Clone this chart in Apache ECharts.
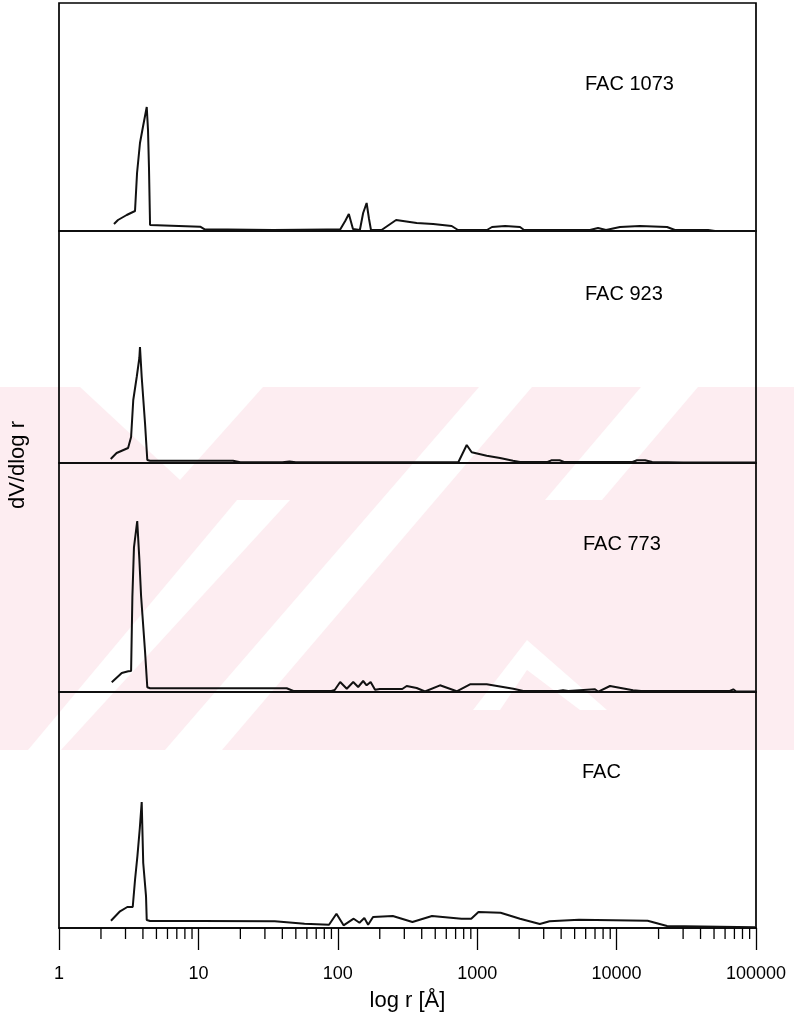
<!DOCTYPE html>
<html>
<head>
<meta charset="utf-8">
<script src="https://cdn.jsdelivr.net/npm/echarts@6/dist/echarts.min.js"></script>
<style>
html,body{margin:0;padding:0;background:#fff;}
#c{width:794px;height:1018px;}
</style>
</head>
<body>
<div id="c"></div>
<script>
// ---- data (r in Å, dV/dlog r in arbitrary units) ----
const panelNames = ['FAC 1073', 'FAC 923', 'FAC 773', 'FAC'];

const r1073 = [2.48,2.65,3.06,3.51,3.63,3.81,4.00,4.26,4.35,4.42,4.50,4.65,10.3,11.1,34.3,83.7,104,113,120,128.5,144,152,161,167.5,173,206,262,368,483,656,728,1175,1277,1585,2028,2167,6440,7360,8400,10580,14700,23000,26200,45300,50800,100000];
const v1073 = [7,11,16,20,58,88,104,124,101,64,6,4.3,4.3,1.7,1,1.5,1.5,10,17,2,1,18,28,12,1,1,11,8,7,5,1,1,4,5,4,1,1,3,1,4,5,4,1,1,0,0];

const r923 = [2.35,2.59,3.13,3.29,3.41,3.61,3.77,3.81,3.92,4.14,4.30,4.5,17.7,20,40,45,50,732,841,913,1170,1458,1806,2028,3200,3400,3900,4200,13000,14000,16000,18000,30000,100000];
const v923 = [4,10,15,26,63,86,105,116,86,40,3,2.3,2.3,0.7,0.7,1.5,0.7,0.7,18,10.7,7.3,5,2.3,1,1,2.7,2.7,1,1,2.7,2.7,1,0.5,0.5];

const r773 = [2.39,2.82,3.14,3.29,3.36,3.45,3.64,3.77,3.88,4.14,4.30,4.5,43,48,90,95,104,116,129,140,152,161,172,185,200,290,312,368,422,541,713,888,1170,1816,2142,3800,4130,4500,7000,7400,8970,13100,15000,65000,68700,72000,100000];
const v773 = [9.7,19,20.7,21,94.7,144.7,171,133,96,41,4.7,3.7,3.7,1,1,2,10,3.3,10,5,11,6.7,10,2.3,3,3,6,4,0.5,6.7,0.7,7.7,7.7,3.3,1,1,1.7,1,2.7,0.3,6,1.7,1,1,2.7,0.5,0.5];

const rFAC = [2.36,2.74,3.09,3.38,3.51,3.65,3.80,3.92,4.02,4.21,4.26,4.5,10.3,35.3,57.7,86.5,97.8,110,130,143,155,165,179,248,343,474,771,906,1021,1472,2028,2813,3306,5373,16700,23000,98400];
const vFAC = [7.3,16.7,21,21,48,71.7,100,126,65,31.7,8,7,7,6.7,4.3,3.3,14.3,2.7,9.3,5.3,10,3.3,11,12,6,12,9.3,9.3,16,15.3,9.3,4,6.7,8.3,7.3,2,0.7];

const tickLabels = ['1','10','100','1000','10000','100000'];
const minorTicks = [];
[1,10,100,1000,10000].forEach(d => { for (let k = 2; k <= 9; k++) minorTicks.push(k * d); });

const rs = [r1073, r923, r773, rFAC];
const vs = [v1073, v923, v773, vFAC];

// ---- layout ----
const L = 59, R = 38;
const bounds = [3, 231, 463, 692, 928];
const yMax = [228, 232, 229, 236];

const grids = [], xAxes = [], yAxes = [], series = [], graphics = [];
for (let i = 0; i < 4; i++) {
  grids.push({left: L, right: R, top: bounds[i], height: bounds[i+1] - bounds[i],
    show: true, borderColor: '#000', borderWidth: 1.7, backgroundColor: 'transparent'});
  const bottom = i === 3;
  xAxes.push({
    gridIndex: i, type: 'log', logBase: 10, min: 1, max: 100000,
    show: true,
    axisLine: {show: bottom, lineStyle: {color: '#000', width: 1.7}},
    axisTick: {show: bottom, length: 22, lineStyle: {color: '#000', width: 1.3}},
    axisLabel: {show: bottom, margin: 37, color: '#000', fontSize: 18, fontFamily: 'Liberation Sans',
      formatter: v => tickLabels[Math.round(Math.log10(v))] || ''},
    splitLine: {show: false},
    name: bottom ? 'log r [Å]' : '', nameLocation: 'middle', nameGap: 62,
    nameTextStyle: {color: '#000', fontSize: 22, fontFamily: 'Liberation Sans'}
  });
  yAxes.push({gridIndex: i, type: 'value', min: 0, max: yMax[i], show: false, splitLine: {show: false}});
  series.push({
    type: 'line', xAxisIndex: i, yAxisIndex: i, showSymbol: false, symbol: 'none',
    data: rs[i].map((r, j) => [r, vs[i][j]]),
    lineStyle: {color: '#111', width: 2}, animation: false, z: 5
  });
}
series.push({
  type: 'custom', xAxisIndex: 3, yAxisIndex: 3, clip: false, animation: false,
  data: minorTicks.map(v => [v, 0]),
  renderItem: (params, api) => {
    const p = api.coord([api.value(0), 0]);
    return {type: 'line', shape: {x1: p[0], y1: p[1], x2: p[0], y2: p[1] + 11},
      style: {stroke: '#000', lineWidth: 1.3}};
  }
});

// faint background watermark (decoration of the scanned page)
const pink = 'rgb(253,237,241)';
graphics.push({type: 'rect', z: -10, shape: {x: 0, y: 387, width: 794, height: 363}, style: {fill: pink}});
const whitePolys = [
  [[80,387],[263,387],[180,480]],
  [[28,750],[61,750],[290,500],[237,500]],
  [[165,750],[222,750],[532,387],[479,387]],
  [[545,500],[602,500],[698,387],[641,387]],
  [[473,710],[500,710],[527,670],[580,710],[607,710],[527,640]]
];
whitePolys.forEach(p => graphics.push({type: 'polygon', z: -9, shape: {points: p}, style: {fill: '#fff'}}));

const labelPos = [[585, 85], [585, 295], [583, 545], [582, 773]];
panelNames.forEach((n, i) => {
  graphics.push({type: 'text', left: labelPos[i][0], top: labelPos[i][1] - 11, z: 10,
    style: {text: n, fill: '#000', font: '20px "Liberation Sans"'}});
});
graphics.push({type: 'text', x: 18, y: 465, rotation: Math.PI / 2, z: 10,
  style: {text: 'dV/dlog r', fill: '#000', font: '22px "Liberation Sans"', textAlign: 'center', textVerticalAlign: 'middle'}});

const chart = echarts.init(document.getElementById('c'), null, {renderer: 'canvas'});
chart.setOption({
  animation: false,
  backgroundColor: '#fff',
  grid: grids, xAxis: xAxes, yAxis: yAxes, series: series, graphic: graphics
});
</script>
</body>
</html>
